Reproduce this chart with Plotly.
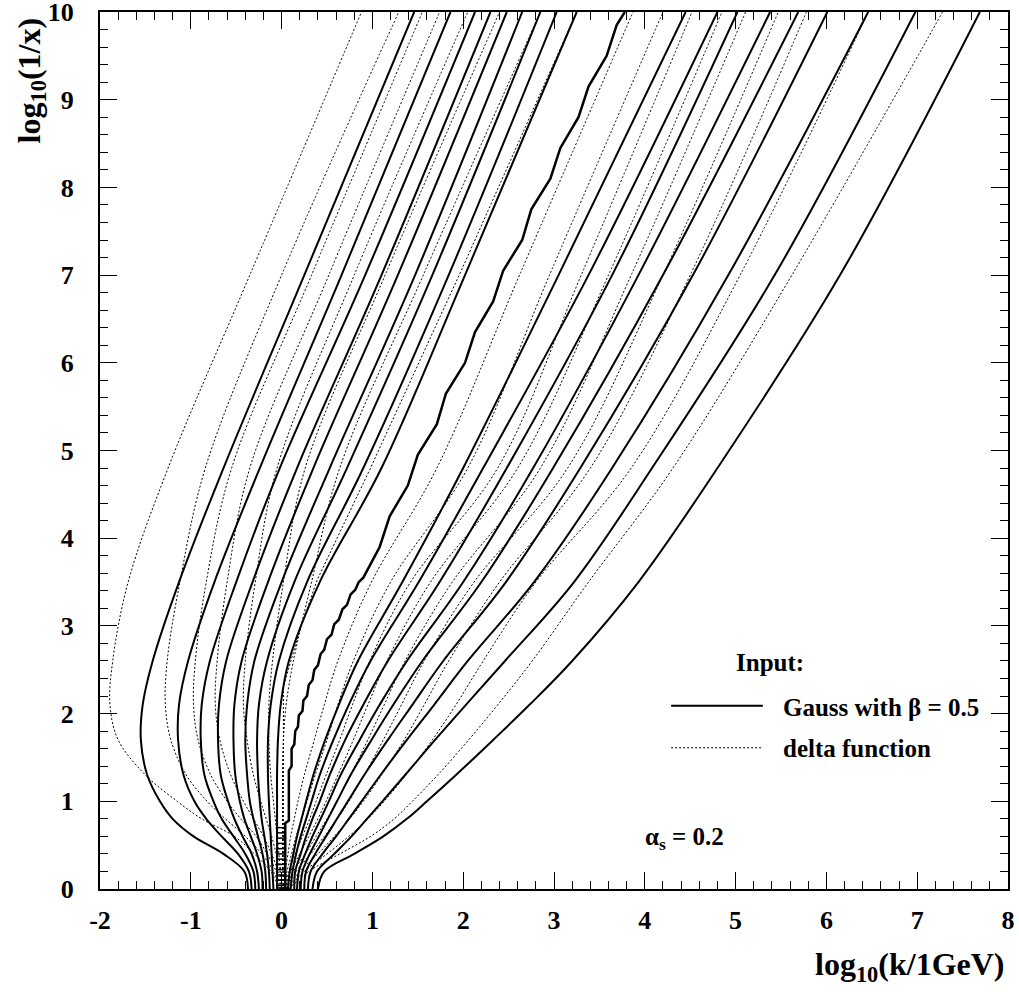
import plotly.graph_objects as go

# shared y-levels (log10(1/x)) at which every contour's x (log10 k) was read
y_levels = [0.0, 0.2, 0.4, 0.6, 0.8, 1.0, 1.3, 1.7, 2.1, 2.6, 3.5, 4.8, 7.0, 10.0]

# Gauss input (solid), left-bending group
gauss_left = [
    [-0.37, -0.41, -0.64, -0.97, -1.20, -1.34, -1.48, -1.55, -1.53, -1.42, -1.13, -0.64, 0.25, 1.46],
    [-0.33, -0.36, -0.48, -0.66, -0.83, -0.96, -1.08, -1.14, -1.13, -1.03, -0.74, -0.24, 0.66, 1.86],
    [-0.29, -0.31, -0.40, -0.53, -0.66, -0.75, -0.85, -0.89, -0.88, -0.79, -0.50, -0.02, 0.92, 2.13],
    [-0.25, -0.27, -0.33, -0.43, -0.52, -0.59, -0.67, -0.70, -0.69, -0.61, -0.32, 0.17, 1.10, 2.30],
    [-0.21, -0.22, -0.27, -0.34, -0.41, -0.46, -0.51, -0.53, -0.52, -0.44, -0.15, 0.35, 1.28, 2.48],
    [-0.17, -0.18, -0.21, -0.26, -0.31, -0.35, -0.38, -0.40, -0.38, -0.30, 0.00, 0.53, 1.47, 2.65],
    [-0.13, -0.14, -0.16, -0.19, -0.22, -0.24, -0.26, -0.27, -0.25, -0.16, 0.14, 0.72, 1.66, 2.85],
    [-0.09, -0.10, -0.11, -0.12, -0.13, -0.14, -0.15, -0.15, -0.12, -0.03, 0.28, 0.90, 1.84, 3.03],
    [-0.05, -0.05, -0.05, -0.05, -0.05, -0.05, -0.05, -0.04, -0.01, 0.08, 0.42, 1.10, 2.02, 3.25],
]

# Gauss input (solid), right-going group
gauss_right = [
    [0.07, 0.09, 0.13, 0.17, 0.22, 0.27, 0.35, 0.48, 0.63, 0.84, 1.33, 2.00, 3.05, 4.45],
    [0.10, 0.12, 0.16, 0.21, 0.27, 0.33, 0.42, 0.57, 0.74, 0.98, 1.51, 2.22, 3.38, 4.80],
    [0.14, 0.15, 0.21, 0.27, 0.34, 0.42, 0.53, 0.70, 0.90, 1.17, 1.74, 2.48, 3.64, 5.02],
    [0.17, 0.19, 0.26, 0.34, 0.43, 0.52, 0.65, 0.86, 1.08, 1.38, 2.00, 2.77, 3.93, 5.38],
    [0.21, 0.23, 0.31, 0.41, 0.51, 0.61, 0.76, 0.99, 1.23, 1.55, 2.20, 2.99, 4.20, 5.69],
    [0.25, 0.27, 0.37, 0.49, 0.61, 0.73, 0.91, 1.17, 1.44, 1.78, 2.47, 3.29, 4.53, 6.01],
    [0.29, 0.32, 0.45, 0.60, 0.74, 0.88, 1.09, 1.38, 1.68, 2.05, 2.78, 3.64, 4.92, 6.46],
    [0.34, 0.39, 0.58, 0.77, 0.94, 1.11, 1.36, 1.69, 2.03, 2.46, 3.22, 4.08, 5.43, 6.98],
    [0.40, 0.47, 0.80, 1.12, 1.38, 1.60, 1.92, 2.33, 2.73, 3.20, 3.93, 4.80, 6.15, 7.69],
]

# Gauss input: the jagged ridge line
gauss_ridge_x = [0.04, 0.04, 0.08, 0.08, 0.11, 0.11, 0.14, 0.15, 0.18, 0.19, 0.23, 0.24,
                 0.28, 0.30, 0.34, 0.36, 0.40, 0.43, 0.47, 0.50, 0.55, 0.58, 0.63, 0.67,
                 0.72, 0.76, 0.81, 0.85, 0.90, 1.08, 1.19, 1.39, 1.50, 1.71, 1.81, 2.02,
                 2.13, 2.33, 2.44, 2.65, 2.75, 2.96, 3.07, 3.27, 3.38, 3.58, 3.69, 3.78]
gauss_ridge_y = [0.00, 0.75, 0.78, 1.35, 1.40, 1.60, 1.65, 1.80, 1.85, 1.98, 2.03, 2.15,
                 2.20, 2.33, 2.38, 2.50, 2.55, 2.68, 2.73, 2.85, 2.90, 3.02, 3.07, 3.19,
                 3.24, 3.36, 3.41, 3.50, 3.55, 3.90, 4.25, 4.60, 4.95, 5.30, 5.65, 6.00,
                 6.35, 6.70, 7.05, 7.40, 7.75, 8.10, 8.45, 8.80, 9.15, 9.50, 9.85, 10.0]

# rungs of the dense "ladder" near log10 k = 0 at small log10(1/x)
ladder_x = [-0.04, 0.05]
ladder_y = [0.04, 0.10, 0.16, 0.22, 0.28, 0.34, 0.40, 0.46, 0.52, 0.58, 0.64, 0.70]

# delta-function input (dotted), left-bending group
delta_left = [
    [-0.03, -0.12, -0.30, -0.52, -0.88, -1.15, -1.50, -1.80, -1.89, -1.86, -1.69, -1.25, -0.35, 0.88],
    [-0.02, -0.09, -0.22, -0.40, -0.62, -0.82, -1.05, -1.22, -1.28, -1.26, -1.12, -0.84, 0.00, 1.29],
    [-0.01, -0.06, -0.16, -0.28, -0.45, -0.60, -0.78, -0.92, -0.97, -0.95, -0.83, -0.55, 0.33, 1.55],
    [0.00, -0.04, -0.11, -0.20, -0.31, -0.42, -0.56, -0.68, -0.73, -0.71, -0.60, -0.35, 0.52, 1.74],
    [0.00, -0.02, -0.06, -0.11, -0.17, -0.23, -0.31, -0.38, -0.42, -0.40, -0.29, -0.05, 0.80, 2.05],
    [0.00, -0.01, -0.03, -0.05, -0.07, -0.09, -0.12, -0.14, -0.14, -0.10, 0.02, 0.26, 1.14, 2.40],
    [0.01, 0.01, 0.01, 0.01, 0.01, 0.01, 0.01, 0.02, 0.05, 0.13, 0.33, 0.64, 1.56, 2.85],
]

# delta-function input (dotted), right-going group
delta_right = [
    [0.03, 0.04, 0.07, 0.10, 0.14, 0.18, 0.25, 0.36, 0.47, 0.62, 0.99, 1.71, 2.62, 3.87],
    [0.03, 0.06, 0.11, 0.16, 0.22, 0.28, 0.37, 0.50, 0.62, 0.79, 1.20, 2.05, 2.95, 4.20],
    [0.04, 0.08, 0.15, 0.23, 0.31, 0.38, 0.49, 0.64, 0.78, 0.97, 1.42, 2.38, 3.30, 4.52],
    [0.04, 0.10, 0.20, 0.30, 0.40, 0.49, 0.62, 0.79, 0.95, 1.16, 1.64, 2.60, 3.60, 4.85],
    [0.05, 0.13, 0.26, 0.38, 0.50, 0.61, 0.76, 0.95, 1.13, 1.36, 1.88, 2.85, 3.85, 5.11],
    [0.05, 0.16, 0.32, 0.47, 0.61, 0.74, 0.91, 1.12, 1.32, 1.57, 2.12, 3.15, 4.20, 5.47],
    [0.06, 0.20, 0.40, 0.58, 0.75, 0.90, 1.10, 1.35, 1.57, 1.84, 2.40, 3.40, 4.50, 5.78],
    [0.07, 0.25, 0.50, 0.74, 0.95, 1.13, 1.37, 1.66, 1.92, 2.22, 2.80, 3.85, 5.05, 6.46],
    [0.08, 0.30, 0.64, 0.98, 1.24, 1.44, 1.72, 2.06, 2.38, 2.76, 3.38, 4.31, 5.62, 7.28],
]

# delta-function input: jagged ridge line
delta_ridge_x = [0.02, 0.02, 0.06, 0.20, 0.39, 0.97, 2.00, 3.25]
delta_ridge_y = [0.00, 2.30, 2.45, 2.95, 3.52, 4.78, 7.10, 10.0]

x_ticks = [-2, -1, 0, 1, 2, 3, 4, 5, 6, 7, 8]
y_ticks = [0, 1, 2, 3, 4, 5, 6, 7, 8, 9, 10]

FONT = "Liberation Serif"
SOLID = dict(color="black", width=2)
DOTTED = dict(color="black", width=1, dash="2px,2px")

fig = go.Figure()

for xs in delta_left + delta_right:
    fig.add_trace(go.Scatter(x=xs, y=y_levels, mode="lines", line=DOTTED,
                             line_shape="spline", showlegend=False, hoverinfo="skip"))
fig.add_trace(go.Scatter(x=delta_ridge_x, y=delta_ridge_y, mode="lines", line=DOTTED,
                         showlegend=False, hoverinfo="skip"))

for xs in gauss_left + gauss_right:
    fig.add_trace(go.Scatter(x=xs, y=y_levels, mode="lines", line=SOLID,
                             line_shape="spline", showlegend=False, hoverinfo="skip"))
fig.add_trace(go.Scatter(x=gauss_ridge_x, y=gauss_ridge_y, mode="lines",
                         line=dict(color="black", width=2.5),
                         showlegend=False, hoverinfo="skip"))

rung_x, rung_y = [], []
for yv in ladder_y:
    rung_x += [ladder_x[0], ladder_x[1], None]
    rung_y += [yv, yv, None]
fig.add_trace(go.Scatter(x=rung_x, y=rung_y, mode="lines",
                         line=dict(color="black", width=1.5),
                         showlegend=False, hoverinfo="skip"))

# legend samples
fig.add_shape(type="line", xref="x", yref="y", x0=4.29, x1=5.30, y0=2.09, y1=2.09,
              line=dict(color="black", width=2))
fig.add_shape(type="line", xref="x", yref="y", x0=4.29, x1=5.30, y0=1.61, y1=1.61,
              line=dict(color="black", width=1, dash="2px,2px"))

ann_font = dict(family=FONT, size=25, color="black", weight="bold")
fig.add_annotation(x=5.38, y=2.58, xref="x", yref="y", text="Input:",
                   showarrow=False, font=ann_font, xanchor="center", yanchor="middle")
fig.add_annotation(x=5.50, y=2.07, xref="x", yref="y", text="Gauss with β = 0.5",
                   showarrow=False, font=ann_font, xanchor="left", yanchor="middle")
fig.add_annotation(x=5.50, y=1.60, xref="x", yref="y", text="delta function",
                   showarrow=False, font=ann_font, xanchor="left", yanchor="middle")
fig.add_annotation(x=3.98, y=0.58, xref="x", yref="y", text="α<sub>s</sub> = 0.2",
                   showarrow=False, font=ann_font, xanchor="left", yanchor="middle")

# axis titles
title_font = dict(family=FONT, size=32, color="black", weight="bold")
fig.add_annotation(x=-0.076, y=0.922, xref="paper", yref="paper",
                   text="log<sub>10</sub>(1/x)", textangle=-90, showarrow=False,
                   font=title_font, xanchor="center", yanchor="middle")
fig.add_annotation(x=0.998, y=-0.088, xref="paper", yref="paper",
                   text="log<sub>10</sub>(k/1GeV)", showarrow=False,
                   font=title_font, xanchor="right", yanchor="middle")

axis_common = dict(
    showgrid=False, zeroline=False, showline=True, linecolor="black", linewidth=2,
    mirror="allticks", ticks="inside", ticklen=17, tickwidth=1, tickcolor="black",
    tickfont=dict(family=FONT, size=26, color="black", weight="bold"),
    ticklabeloverflow="allow", automargin=False,
)
fig.update_xaxes(range=[-2, 8], tickvals=x_ticks, ticktext=[str(v) for v in x_ticks],
                 minor=dict(ticks="inside", dtick=0.2, ticklen=8, tickcolor="black"),
                 ticklabelstandoff=7, **axis_common)
fig.update_yaxes(range=[0, 10], tickvals=y_ticks, ticktext=[str(v) for v in y_ticks],
                 minor=dict(ticks="inside", dtick=0.2, ticklen=8, tickcolor="black"),
                 ticklabelstandoff=19, **axis_common)

fig.update_layout(width=1019, height=992, margin=dict(l=100, r=11, t=12, b=103),
                  plot_bgcolor="white", paper_bgcolor="white", showlegend=False)

# remove the browser's default page margin so the figure sits at the window origin
fig.write_html("out.html", config={"displayModeBar": False},
               post_script="document.body.style.margin='0px';")
